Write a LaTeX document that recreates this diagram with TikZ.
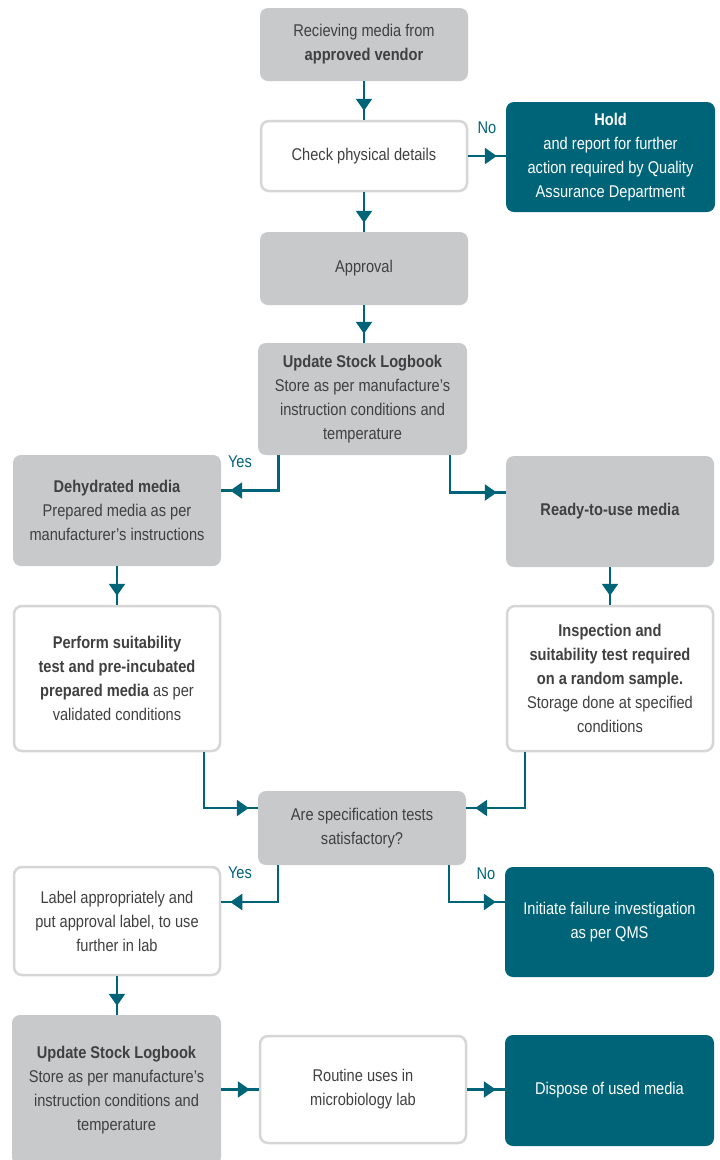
\documentclass[tikz,border=0pt]{standalone}
\usepackage{fontspec}
\setmainfont{Liberation Sans}[FakeStretch=0.86]
\usetikzlibrary{arrows.meta,decorations.markings,calc}
\definecolor{boxgray}{HTML}{C8C9CB}
\definecolor{teal}{HTML}{006479}
\definecolor{bordergray}{HTML}{D6D6D6}
\definecolor{txt}{HTML}{404040}
\tikzset{
  base/.style={rounded corners=8pt, align=center, font=\fontsize{17}{24}\selectfont, text=txt, inner sep=2pt},
  graybox/.style={base, fill=boxgray},
  whitebox/.style={base, fill=white, draw=bordergray, line width=2.5pt},
  tealbox/.style={base, fill=teal, text=white},
  conn/.style={draw=teal, line width=2.4pt,
    postaction={decorate},
    decoration={markings, mark=at position -9pt with {\arrow[teal]{Triangle[length=12pt,width=16pt]}}}},
  lab/.style={text=teal, font=\fontsize{17}{18}\selectfont}
}
\begin{document}
\begin{tikzpicture}[x=1pt,y=-1pt]
\clip (0,0) rectangle (720,1160);
\fill[white] (0,0) rectangle (720,1160);
% nodes
\node[graybox, minimum width=208pt, minimum height=73pt] (recv) at (364,44.5) {Recieving media from\\\textbf{approved vendor}};
\node[whitebox, minimum width=206pt, minimum height=70pt] (check) at (364,156) {Check physical details};
\node[tealbox, minimum width=209pt, minimum height=110pt] (hold) at (610.5,157) {\textbf{Hold}\\and report for further\\action required by Quality\\Assurance Department};
\node[graybox, minimum width=208pt, minimum height=73pt] (appr) at (364,268.5) {Approval};
\node[graybox, minimum width=209pt, minimum height=112pt] (upd) at (362.5,399) {\textbf{Update Stock Logbook}\\Store as per manufacture's\\instruction conditions and\\temperature};
\node[graybox, minimum width=208pt, minimum height=111pt] (dehy) at (117,510.5) {\textbf{Dehydrated media}\\Prepared media as per\\manufacturer's instructions};
\node[graybox, minimum width=208pt, minimum height=111pt] (ready) at (610,511.5) {\textbf{Ready-to-use media}};
\node[whitebox, minimum width=206pt, minimum height=145pt] (perf) at (117,678.5) {\textbf{Perform suitability}\\\textbf{test and pre-incubated}\\\textbf{prepared media} as per\\validated conditions};
\node[whitebox, minimum width=206pt, minimum height=145pt] (insp) at (610,678.5) {\textbf{Inspection and}\\\textbf{suitability test required}\\\textbf{on a random sample.}\\Storage done at specified\\conditions};
\node[graybox, minimum width=208pt, minimum height=74pt] (spec) at (362,828) {Are specification tests\\satisfactory?};
\node[whitebox, minimum width=206pt, minimum height=108pt] (label) at (117,921) {Label appropriately and\\put approval label, to use\\further in lab};
\node[tealbox, minimum width=209pt, minimum height=110pt] (init) at (609.5,922) {Initiate failure investigation\\as per QMS};
\node[graybox, minimum width=209pt, minimum height=150pt] (upd2) at (116.5,1090) {\textbf{Update Stock Logbook}\\Store as per manufacture's\\instruction conditions and\\temperature};
\node[whitebox, minimum width=206pt, minimum height=107pt] (rout) at (363,1089.5) {Routine uses in\\microbiology lab};
\node[tealbox, minimum width=209pt, minimum height=111pt] (disp) at (609.5,1090.5) {Dispose of used media};
% connectors
\path[conn] (recv.south) -- (check.north);
\path[conn] (check.south) -- (appr.north);
\path[conn] (check.east) -- (check.east -| hold.west);
\path[conn] (appr.south) -- (appr.south |- upd.north);
\path[conn] ([xshift=-84pt]upd.south) |- ([yshift=20pt]dehy.east);
\path[conn] ([xshift=87.5pt]upd.south) |- ([yshift=19pt]ready.west);
\path[conn] (dehy.south) -- (perf.north);
\path[conn] (ready.south) -- (insp.north);
\path[conn] ([xshift=87pt]perf.south) |- ([yshift=20pt]spec.west);
\path[conn] ([xshift=-85pt]insp.south) |- ([yshift=20pt]spec.east);
\path[conn] ([xshift=-84pt]spec.south) |- ([yshift=19pt]label.east);
\path[conn] ([xshift=87pt]spec.south) |- ([yshift=20pt]init.west);
\path[conn] (label.south) -- (label.south |- upd2.north);
\path[conn] (upd2.east |- rout.west) -- (rout.west);
\path[conn] (rout.east) -- (rout.east -| disp.west);
% labels
\node[lab] (no1) at (487,128) {No};
\node[lab] (yes1) at (240,462) {Yes};
\node[lab] (yes2) at (240,873) {Yes};
\node[lab] (no2) at (486,874) {No};
\end{tikzpicture}
\end{document}
